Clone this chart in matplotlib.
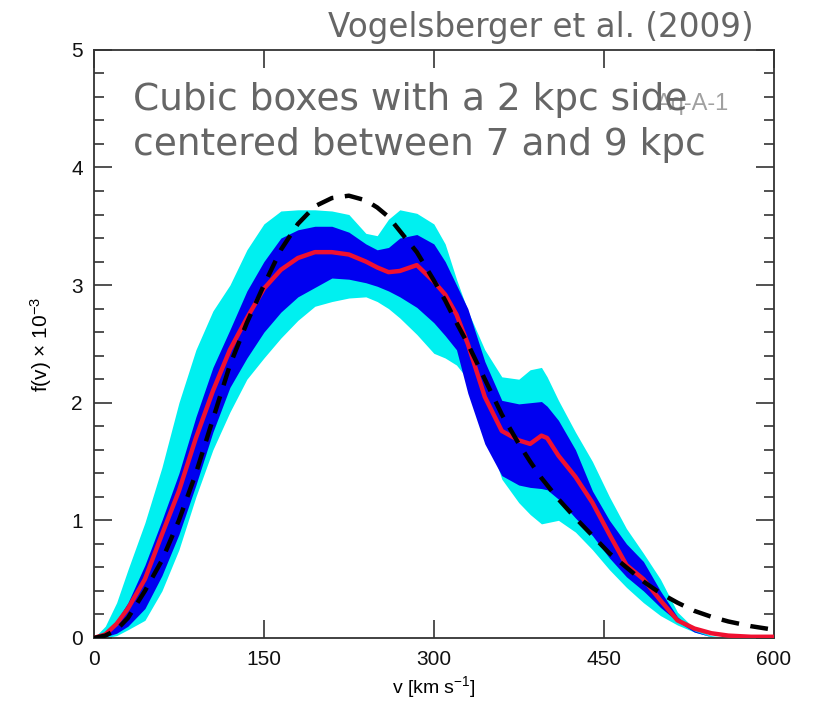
import matplotlib
matplotlib.use("Agg")
import matplotlib.pyplot as plt
from matplotlib.ticker import MultipleLocator

plt.rcParams["mathtext.fontset"] = "custom"
plt.rcParams["mathtext.rm"] = "Liberation Sans"
plt.rcParams["mathtext.it"] = "Liberation Sans:italic"

v = [0, 10, 20, 30, 45, 60, 75, 90, 105, 120, 135, 150, 165, 180, 195, 210,
     225, 240, 250, 260, 270, 285, 300, 310, 320, 330, 345, 360, 375, 385,
     395, 400, 410, 425, 440, 455, 470, 485, 500, 515, 530, 545, 560, 580, 600]

# outer (cyan) band
cyan_hi = [0, 0.10, 0.30, 0.58, 0.98, 1.45, 2.00, 2.45, 2.78, 3.00, 3.30, 3.52,
           3.63, 3.64, 3.64, 3.63, 3.60, 3.44, 3.42, 3.56, 3.64, 3.61, 3.52, 3.35,
           3.05, 2.78, 2.45, 2.22, 2.20, 2.28, 2.30, 2.22, 2.02, 1.75, 1.50, 1.20,
           0.93, 0.72, 0.50, 0.22, 0.08, 0.02, 0.00, 0.00, 0.00]
cyan_lo = [0, 0.00, 0.02, 0.07, 0.15, 0.40, 0.75, 1.20, 1.60, 1.92, 2.20, 2.38,
           2.55, 2.70, 2.82, 2.86, 2.89, 2.90, 2.86, 2.80, 2.72, 2.58, 2.42, 2.38,
           2.32, 2.20, 1.80, 1.35, 1.15, 1.05, 0.97, 0.98, 1.00, 0.90, 0.75, 0.58,
           0.43, 0.30, 0.19, 0.11, 0.05, 0.01, 0.00, 0.00, 0.00]

# inner (blue) band
blue_hi = [0, 0.05, 0.15, 0.30, 0.62, 1.00, 1.40, 1.88, 2.30, 2.62, 2.95, 3.20,
           3.40, 3.47, 3.50, 3.50, 3.45, 3.35, 3.30, 3.32, 3.40, 3.43, 3.35, 3.20,
           3.00, 2.80, 2.35, 2.02, 1.99, 2.00, 2.01, 1.97, 1.85, 1.60, 1.25, 1.00,
           0.80, 0.65, 0.40, 0.18, 0.06, 0.01, 0.00, 0.00, 0.00]
blue_lo = [0, 0.01, 0.04, 0.10, 0.25, 0.53, 0.88, 1.30, 1.75, 2.13, 2.38, 2.60,
           2.77, 2.90, 2.98, 3.06, 3.05, 3.02, 2.99, 2.95, 2.90, 2.81, 2.68, 2.57,
           2.45, 2.08, 1.65, 1.38, 1.30, 1.28, 1.27, 1.26, 1.18, 1.02, 0.87, 0.68,
           0.52, 0.40, 0.26, 0.14, 0.05, 0.01, 0.00, 0.00, 0.00]

# mean distribution (red)
f_mean = [0, 0.03, 0.12, 0.25, 0.50, 0.88, 1.25, 1.70, 2.10, 2.45, 2.72, 2.97,
          3.13, 3.23, 3.28, 3.28, 3.26, 3.20, 3.15, 3.11, 3.12, 3.17, 3.03, 2.92,
          2.75, 2.50, 2.05, 1.76, 1.68, 1.65, 1.72, 1.70, 1.55, 1.37, 1.15, 0.88,
          0.62, 0.50, 0.32, 0.15, 0.08, 0.04, 0.02, 0.01, 0.01]

# best-fit Maxwellian (black dashed)
f_maxw = [0, 0.02, 0.07, 0.17, 0.40, 0.66, 1.00, 1.40, 1.86, 2.32, 2.68, 3.00,
          3.30, 3.52, 3.67, 3.74, 3.76, 3.72, 3.66, 3.58, 3.46, 3.28, 3.04, 2.87,
          2.68, 2.50, 2.20, 1.90, 1.65, 1.50, 1.36, 1.30, 1.18, 1.02, 0.87, 0.72,
          0.60, 0.48, 0.38, 0.30, 0.23, 0.18, 0.14, 0.10, 0.07]

x_ticks = [0, 150, 300, 450, 600]

fig = plt.figure(figsize=(8.17, 7.12), dpi=100)
ax = fig.add_axes([0.115, 0.104, 0.832, 0.826])

ax.fill_between(v, cyan_lo, cyan_hi, color="#00f0f0", linewidth=0, zorder=1)
ax.fill_between(v, blue_lo, blue_hi, color="#0000f0", linewidth=0, zorder=2)
ax.plot(v, f_mean, color="#f01030", linewidth=3.2, zorder=3)
ax.plot(v, f_maxw, color="black", linewidth=3.2, dashes=(4, 2.6), zorder=4)

ax.set_xlim(0, 600)
ax.set_ylim(0, 5)
ax.set_xticks(x_ticks)
ax.set_xticklabels([str(t) for t in x_ticks])
ax.yaxis.set_major_locator(MultipleLocator(1))
ax.yaxis.set_minor_locator(MultipleLocator(0.2))

for s in ax.spines.values():
    s.set_color("#333333")
    s.set_linewidth(1.3)

ax.tick_params(which="both", direction="in", top=True, right=True,
               color="#333333", width=1.2)
ax.tick_params(which="major", length=13)
ax.tick_params(which="minor", length=7)
ax.tick_params(axis="x", pad=9)
ax.tick_params(axis="y", pad=8)
for lab in ax.get_xticklabels() + ax.get_yticklabels():
    lab.set_fontfamily("Liberation Sans")
    lab.set_fontsize(15)
    lab.set_color("#111111")

ax.set_xlabel(r"v [km s$^{-1}$]", family="Liberation Sans", fontsize=14,
              labelpad=3)
ax.set_ylabel("f(v) \u00d7 10$^{-3}$", family="Liberation Sans",
              fontsize=15, labelpad=12)

ax.text(0.935, 0.898, "Aq-A-1", transform=ax.transAxes, fontsize=17,
        color="#a0a0a0", family="Liberation Sans", ha="right", va="baseline",
        zorder=5)
ax.text(0.057, 0.898, "Cubic boxes with a 2 kpc side", transform=ax.transAxes,
        fontsize=27, color="#666666", family="DejaVu Sans", va="baseline",
        ha="left", zorder=6)
ax.text(0.057, 0.821, "centered between 7 and 9 kpc", transform=ax.transAxes,
        fontsize=27, color="#666666", family="DejaVu Sans", va="baseline",
        ha="left", zorder=6)

fig.text(0.922, 0.961, "Vogelsberger et al. (2009)", fontsize=23.5,
         color="#666666", family="DejaVu Sans", ha="right", va="center")

fig.savefig("out.png", dpi=100)
